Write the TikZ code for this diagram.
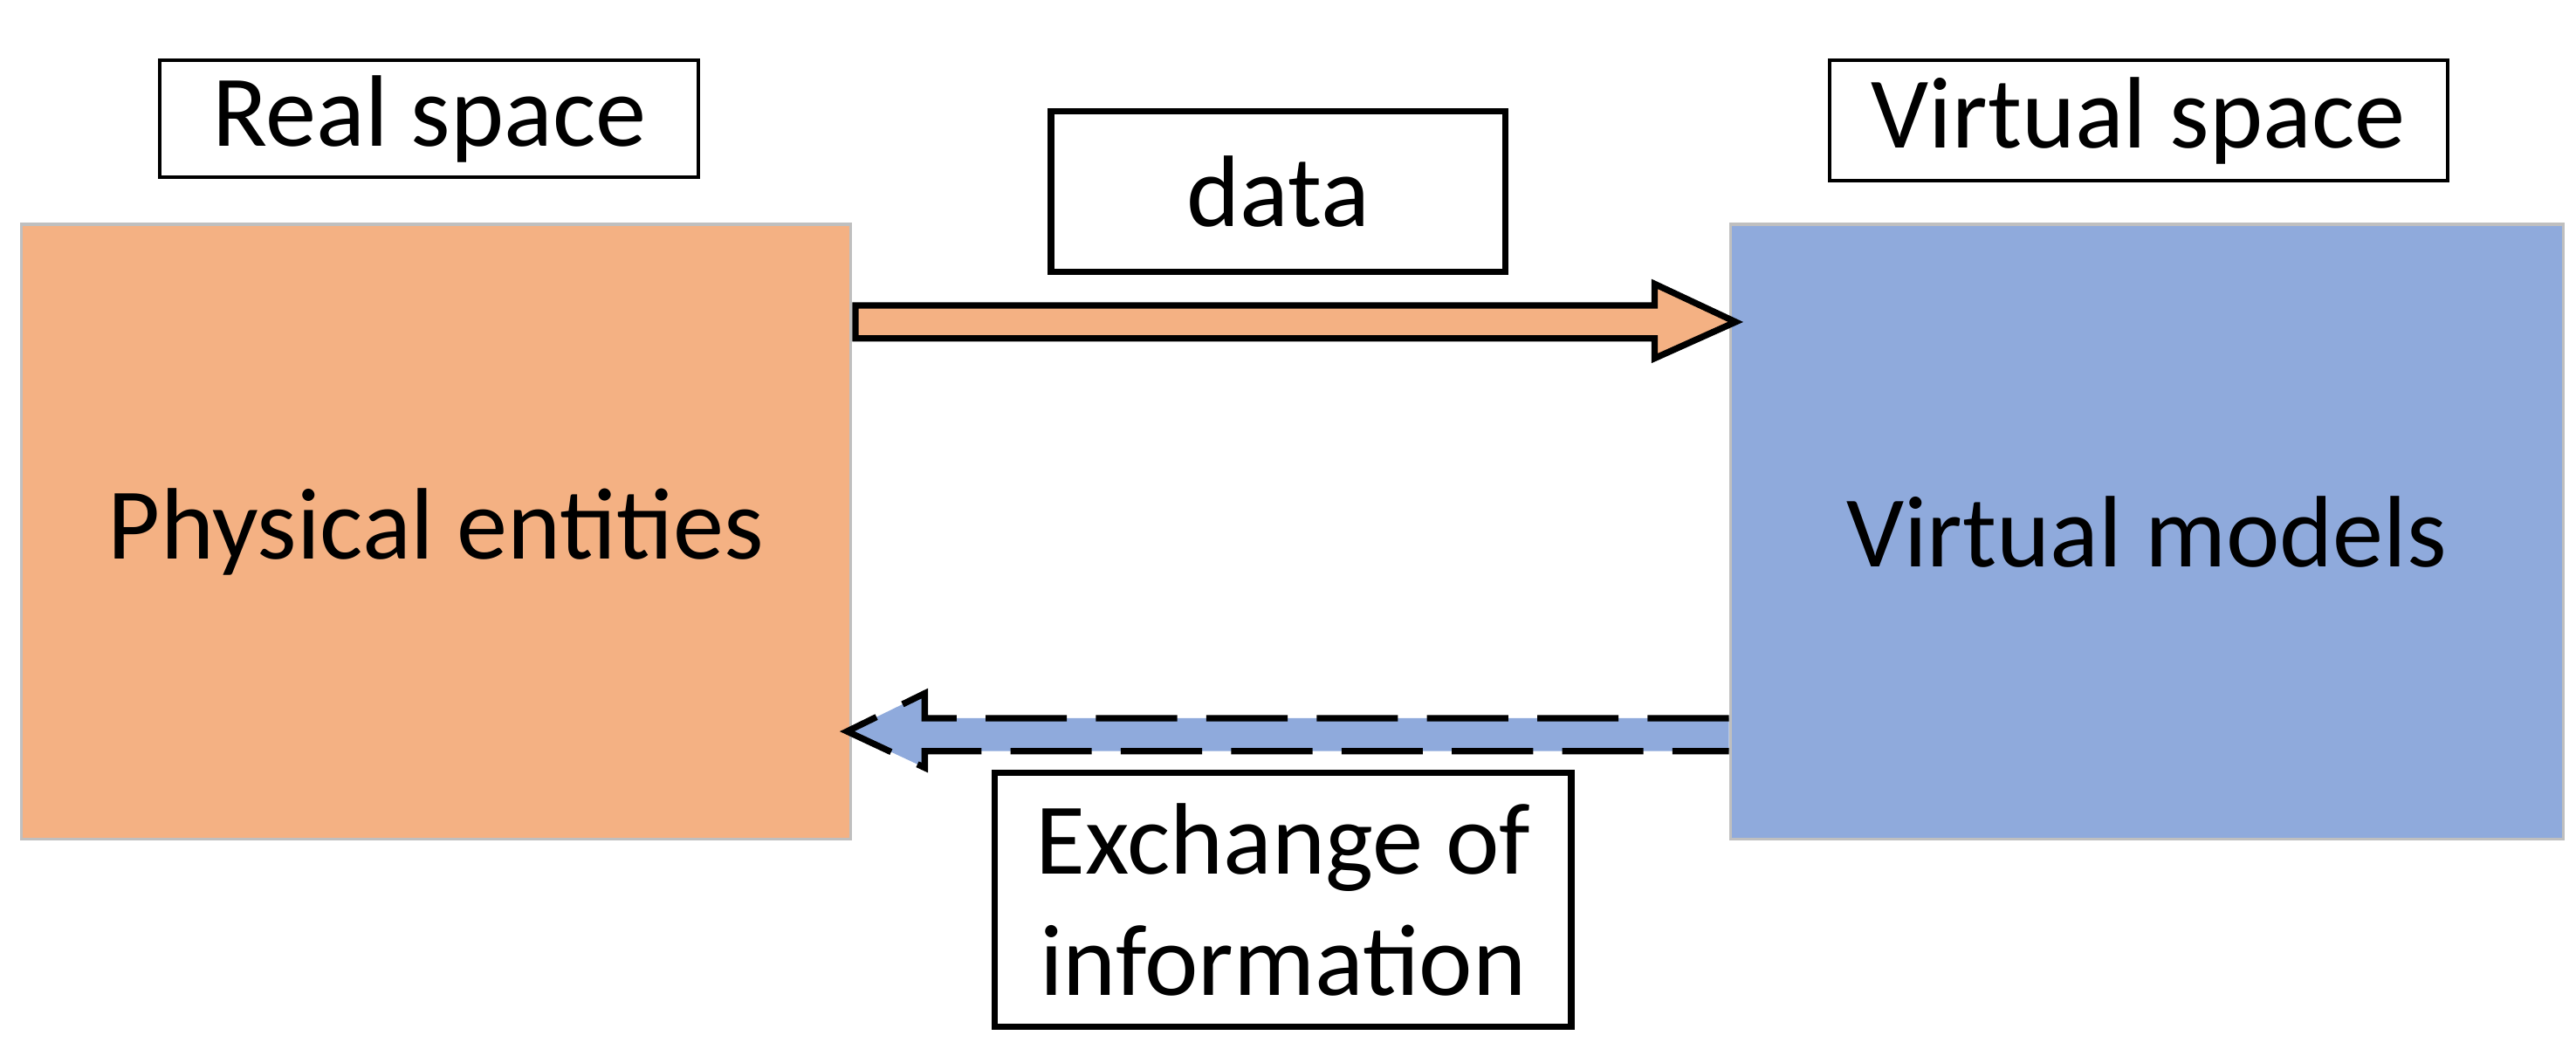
\documentclass[tikz,border=0pt]{standalone}
\usepackage{fontspec}
\setmainfont{Carlito}
\usetikzlibrary{calc}
\definecolor{physfill}{HTML}{F4B183}
\definecolor{virtfill}{HTML}{8FAADC}
\begin{document}
\begin{tikzpicture}[
    x = 0.01cm, y = -0.01cm,
    font = \fontsize{17.5}{21}\selectfont,
    space/.style = {draw = black!25, line width = 0.5pt, inner sep = 0pt},
    tag/.style = {draw, line width = 0.6pt, inner sep = 0pt, align = center},
    thickarrow/.style = {line width = 1.1pt, line join = miter}]
\useasboundingbox (0,0) rectangle (1560,635);

\node[space, fill = physfill, anchor = north west,
      minimum width = 5.02cm, minimum height = 3.72cm] (phys) at (12,135) {Physical entities};
\node[space, fill = virtfill, anchor = north west,
      minimum width = 5.04cm, minimum height = 3.72cm] (virt) at (1047,135) {Virtual models};

\node[tag, minimum width = 3.26cm, minimum height = 0.71cm] (real) at (260,72) {Real space};
\node[tag, minimum width = 3.74cm, minimum height = 0.73cm] (virtual) at (1295,73) {Virtual space};
\node[tag, line width = 1.1pt, minimum width = 2.75cm, minimum height = 0.97cm] (data) at (774,116) {data};
\node[tag, line width = 1.1pt, minimum width = 3.49cm, minimum height = 1.54cm] (exch) at (777,545)
    {Exchange of\\information};

% data flow
\draw[thickarrow, fill = physfill]
    ($(phys.north east)+(2,50)$) -- ++(484,0) -- ++(0,-13) -- ++(49,23)
    -- ++(-49,22) -- ++(0,-12) -- ++(-484,0) -- cycle;
% information flow
\fill[virtfill]
    ($(virt.north west)+(0,300)$) -- ++(-487,0) -- ++(0,-15) -- ++(-47,23)
    -- ++(47,22) -- ++(0,-10) -- ++(487,0) -- cycle;
\draw[thickarrow, dash pattern = on 14pt off 5pt]
    ($(virt.north west)+(0,300)$) -- ++(-487,0) -- ++(0,-15) -- ++(-47,23)
    -- ++(47,22) -- ++(0,-10) -- ++(487,0);
\end{tikzpicture}
\end{document}
